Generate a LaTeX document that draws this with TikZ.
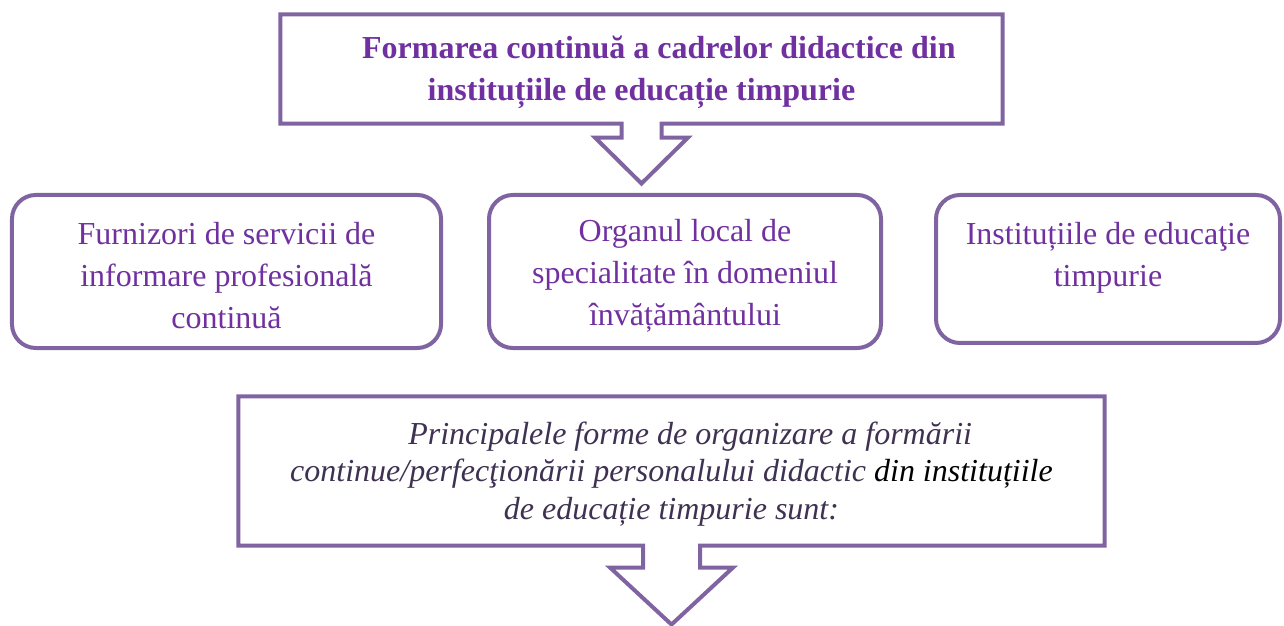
\documentclass[tikz,border=0pt]{standalone}
\usepackage{fontspec}
\setmainfont{Liberation Serif}
\usetikzlibrary{calc}
\definecolor{framepurple}{HTML}{8064A2}
\definecolor{textpurple}{HTML}{7030A0}
\definecolor{textdark}{HTML}{3F3151}

\begin{document}
\begin{tikzpicture}[x=0.375pt,y=-0.375pt,
  purpleframe/.style={draw=framepurple,line width=1.5pt,line join=miter},
  calloutbox/.style={inner sep=0pt},
  roundbox/.style={purpleframe,rounded corners=9pt,inner sep=0pt},
  boxtext/.style={inner sep=0pt,align=center,text=textpurple,
    font=\fontsize{12}{15.75}\selectfont}]
%%Location
\useasboundingbox (0,0) rectangle (1284,626);

%%Top callout
\node[calloutbox,minimum width=270.4pt,minimum height=40.5pt] (formare) at (641.5,69) {};
\node[boxtext,font=\fontsize{12}{15.75}\selectfont\bfseries] (formaretext)
  at ([yshift=-1.1pt]formare.center)
  {\hspace*{13pt}Formarea continuă a cadrelor didactice din\\
   instituțiile de educație timpurie};
\draw[purpleframe] (formare.south west) -- (formare.north west)
  -- (formare.north east) -- (formare.south east)
  -- ($(formare.south)+(20,0)$) -- ++(0,14) -- ++(26.5,0)
  -- ($(formare.south)+(0,60)$) -- ++(-46.5,-46) -- ++(26.5,0)
  -- ++(0,-14) -- cycle;

%%Boxes
\node[roundbox,minimum width=160.9pt,minimum height=57.4pt] (furnizori) at (226.5,271.5) {};
\node[roundbox,minimum width=147pt,minimum height=57.4pt] (organul) at (685,271.5) {};
\node[roundbox,minimum width=129pt,minimum height=55.5pt] (institutii) at (1108,269) {};

\node[boxtext] (furnizoritext) at ([yshift=-1.5pt]furnizori.center)
  {Furnizori de servicii de\\ informare profesională\\ continuă};
\node[boxtext] (organultext) at ([yshift=-1.5pt]organul.center)
  {Organul local de\\ specialitate în domeniul\\ învățământului};
\node[boxtext] (institutiitext) at ([yshift=-2.4pt]institutii.center)
  {Instituțiile de educaţie\\ timpurie\\ \phantom{continuă}};

%%Bottom callout
\node[calloutbox,minimum width=324.4pt,minimum height=55.5pt] (forme) at (671.5,471) {};
\node[boxtext,text=textdark,font=\fontsize{12}{14}\selectfont\itshape] (formetext)
  at ([yshift=-1.1pt]forme.center)
  {\hspace*{14pt}Principalele forme de organizare a formării\\
   continue/perfecţionării personalului didactic \textcolor{black}{din instituțiile}\\
   de educație timpurie sunt:};
\draw[purpleframe] (forme.south west) -- (forme.north west)
  -- (forme.north east) -- (forme.south east)
  -- ($(forme.south)+(28.5,0)$) -- ++(0,22) -- ++(33,0)
  -- ($(forme.south)+(0,79)$) -- ++(-61.5,-57) -- ++(33,0)
  -- ++(0,-22) -- cycle;
\end{tikzpicture}
\end{document}
